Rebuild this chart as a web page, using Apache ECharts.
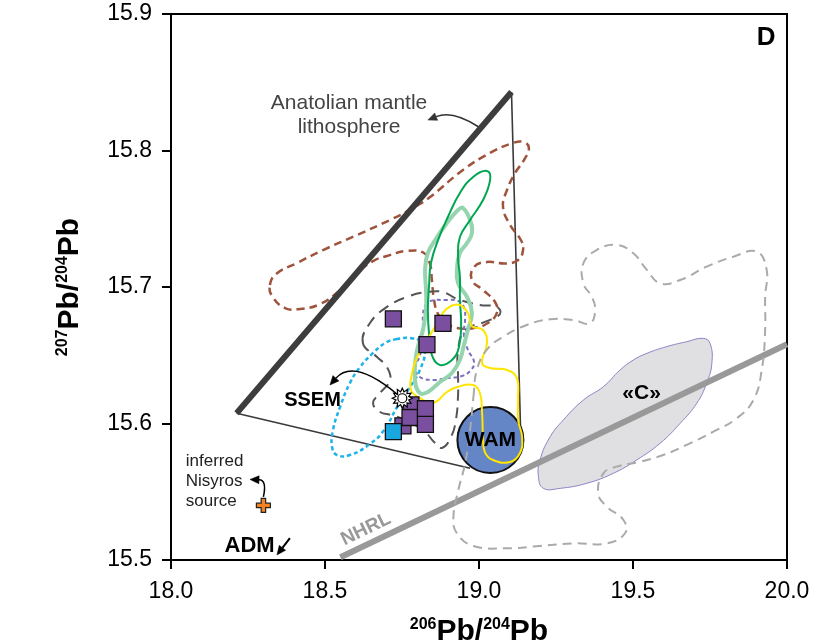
<!DOCTYPE html>
<html>
<head>
<meta charset="utf-8">
<script src="https://cdn.jsdelivr.net/npm/echarts@6/dist/echarts.min.js"></script>
<style>
  html, body { margin: 0; padding: 0; background: #fff; }
  #chart { width: 823px; height: 642px; }
</style>
</head>
<body>
<div id="chart"></div>
<script>
// ---- axis ticks ----
const xTicks = [18.0, 18.5, 19.0, 19.5, 20.0];
const yTicks = [15.5, 15.6, 15.7, 15.8, 15.9];

// ---- Anatolian mantle lithosphere wedge (206Pb/204Pb, 207Pb/204Pb) ----
const lithosphereEdge = [[18.213, 15.6075], [19.1055, 15.8429]];
const wedgeRightEdge = [[19.1055, 15.8429], [19.135, 15.5952]];
const wedgeBaseEdge = [[18.213, 15.6075], [18.971, 15.5672]];

// ---- Northern Hemisphere Reference Line ----
const nhrlLine = [[18.55, 15.502], [20.0, 15.658]];

// ---- compositional fields ----
const brownField = [
  [18.321, 15.7015], [18.341, 15.7095], [18.409, 15.7176], [18.494, 15.7271], [18.604, 15.7381],
  [18.711, 15.7491], [18.786, 15.7579], [18.841, 15.7659], [18.948, 15.7857], [19.036, 15.7982],
  [19.110, 15.8055], [19.146, 15.8062], [19.162, 15.8018], [19.146, 15.7930], [19.117, 15.7835],
  [19.091, 15.7711], [19.078, 15.7586], [19.101, 15.7454], [19.136, 15.7344], [19.143, 15.7271],
  [19.127, 15.7198], [19.088, 15.7172], [19.026, 15.7183], [18.984, 15.7147], [18.977, 15.7051],
  [19.013, 15.6978], [19.052, 15.6890], [19.058, 15.6810], [19.029, 15.6736], [18.984, 15.6700],
  [18.929, 15.6700], [18.893, 15.6736], [18.867, 15.6802], [18.854, 15.6905], [18.847, 15.7051],
  [18.841, 15.7168], [18.821, 15.7249], [18.766, 15.7264], [18.701, 15.7227], [18.656, 15.7190],
  [18.604, 15.7103], [18.549, 15.6978], [18.484, 15.6875], [18.419, 15.6839], [18.370, 15.6846],
  [18.328, 15.6934]
];
const greenField = [
  [18.873, 15.6429], [18.847, 15.6502], [18.838, 15.6648], [18.834, 15.6832], [18.838, 15.7015],
  [18.844, 15.7176], [18.867, 15.7344], [18.899, 15.7513], [18.938, 15.7689], [18.981, 15.7806],
  [19.026, 15.7850], [19.036, 15.7784], [19.013, 15.7637], [18.971, 15.7491], [18.938, 15.7366],
  [18.932, 15.7220], [18.938, 15.7073], [18.938, 15.6905], [18.942, 15.6736], [18.935, 15.6560],
  [18.912, 15.6465]
];
const paleGreenField = [
  [18.808, 15.6223], [18.792, 15.6319], [18.796, 15.6502], [18.808, 15.6612], [18.818, 15.6685],
  [18.828, 15.6832], [18.828, 15.6978], [18.825, 15.7125], [18.834, 15.7249], [18.864, 15.7366],
  [18.896, 15.7469], [18.932, 15.7564], [18.948, 15.7579], [18.971, 15.7491], [18.977, 15.7396],
  [18.961, 15.7322], [18.938, 15.7249], [18.929, 15.7147], [18.932, 15.7029], [18.961, 15.6927],
  [18.977, 15.6810], [18.964, 15.6685], [18.951, 15.6575], [18.938, 15.6465], [18.912, 15.6370],
  [18.873, 15.6304], [18.834, 15.6231]
];
const darkGrayField = [
  [18.623, 15.6590], [18.646, 15.6736], [18.701, 15.6854], [18.766, 15.6927], [18.831, 15.6963],
  [18.883, 15.6963], [18.929, 15.6912], [19.003, 15.6868], [19.058, 15.6854], [19.068, 15.6802],
  [19.019, 15.6744], [18.955, 15.6685], [18.932, 15.6539], [18.932, 15.6355], [18.932, 15.6209],
  [18.925, 15.6026], [18.909, 15.5901], [18.880, 15.5821], [18.854, 15.5864], [18.825, 15.5938],
  [18.760, 15.6026], [18.714, 15.6062], [18.679, 15.6084], [18.656, 15.6150], [18.679, 15.6223],
  [18.711, 15.6319], [18.701, 15.6414], [18.669, 15.6487]
];
const violetField = [
  [18.825, 15.6861], [18.841, 15.6897], [18.890, 15.6905], [18.932, 15.6897], [18.951, 15.6853],
  [18.955, 15.6773], [18.951, 15.6648], [18.964, 15.6539], [18.984, 15.6451], [18.974, 15.6392],
  [18.945, 15.6348], [18.896, 15.6333], [18.851, 15.6319], [18.808, 15.6341], [18.792, 15.6414],
  [18.808, 15.6495], [18.818, 15.6663], [18.818, 15.6795]
];
const yellowField = [
  [18.779, 15.6245], [18.783, 15.6370], [18.799, 15.6487], [18.851, 15.6685], [18.883, 15.6810],
  [18.909, 15.6861], [18.938, 15.6868], [18.964, 15.6810], [18.977, 15.6714], [19.013, 15.6685],
  [19.026, 15.6590], [19.010, 15.6443], [19.036, 15.6407], [19.091, 15.6392], [19.123, 15.6333],
  [19.127, 15.6194], [19.127, 15.6026], [19.140, 15.5901], [19.133, 15.5784], [19.101, 15.5718],
  [19.045, 15.5733], [19.019, 15.5791], [19.013, 15.5901], [19.010, 15.6077], [19.003, 15.6223],
  [18.981, 15.6282], [18.929, 15.6267], [18.896, 15.6231], [18.851, 15.6150], [18.808, 15.6187]
];
const cyanField = [
  [18.734, 15.6619], [18.701, 15.6597], [18.656, 15.6517], [18.614, 15.6414], [18.581, 15.6297],
  [18.549, 15.6121], [18.526, 15.5952], [18.523, 15.5828], [18.539, 15.5769], [18.581, 15.5769],
  [18.646, 15.5850], [18.692, 15.5952], [18.734, 15.6121], [18.776, 15.6267], [18.808, 15.6392],
  [18.825, 15.6539], [18.808, 15.6604], [18.776, 15.6626]
];
const lightGrayField = [
  [18.982, 15.6196], [18.993, 15.6392], [19.025, 15.6539], [19.079, 15.6636], [19.155, 15.6722],
  [19.231, 15.6763], [19.306, 15.6758], [19.360, 15.6734], [19.377, 15.6832], [19.366, 15.6929],
  [19.339, 15.7027], [19.339, 15.7174], [19.382, 15.7271], [19.447, 15.7308], [19.501, 15.7247],
  [19.545, 15.7125], [19.588, 15.7027], [19.653, 15.7051], [19.739, 15.7149], [19.826, 15.7222],
  [19.902, 15.7259], [19.934, 15.7125], [19.929, 15.6929], [19.929, 15.6685], [19.918, 15.6392],
  [19.891, 15.6172], [19.837, 15.6038], [19.761, 15.5940], [19.674, 15.5843], [19.598, 15.5769],
  [19.523, 15.5720], [19.447, 15.5684], [19.404, 15.5635], [19.387, 15.5489], [19.415, 15.5391],
  [19.469, 15.5293], [19.474, 15.5196], [19.415, 15.5122], [19.306, 15.5122], [19.198, 15.5103],
  [19.090, 15.5086], [18.982, 15.5103], [18.928, 15.5196], [18.917, 15.5317], [18.933, 15.5513],
  [18.955, 15.5708], [18.971, 15.5952]
];
const cField = [
  [19.198, 15.5733], [19.231, 15.5903], [19.274, 15.6026], [19.339, 15.6172], [19.404, 15.6270],
  [19.458, 15.6392], [19.501, 15.6465], [19.545, 15.6514], [19.609, 15.6563], [19.674, 15.6599],
  [19.728, 15.6624], [19.750, 15.6588], [19.756, 15.6441], [19.739, 15.6295], [19.707, 15.6148],
  [19.653, 15.6001], [19.588, 15.5855], [19.512, 15.5733], [19.436, 15.5635], [19.350, 15.5562],
  [19.263, 15.5525], [19.209, 15.5525], [19.193, 15.5610]
];

// ---- individual compositions ----
const violetSamples = [
  [18.779, 15.6136], [18.753, 15.5982], [18.776, 15.6044], [18.826, 15.6108], [18.826, 15.5993],
  [18.722, 15.6766], [18.883, 15.6734], [18.831, 15.6578]
];
const cyanSamples = [[18.722, 15.5940]];
const wamPoint = [[19.037, 15.5879]];
const ssemPoint = [[18.751, 15.6185]];
const nisyrosSource = [[18.300, 15.5400]];

// ---- annotation arrows: from, bend, to ----
const arrows = [
  { from: [18.998, 15.8174], via: [18.914, 15.8297], to: [18.834, 15.8223], color: '#333' },
  { from: [18.737, 15.6209], via: [18.594, 15.6480], to: [18.516, 15.6282], color: '#000' },
  { from: [18.300, 15.5462], via: [18.312, 15.5586], to: [18.2565, 15.5590], color: '#000' },
  { from: [18.386, 15.5161], via: null, to: [18.344, 15.5037], color: '#000', width: 2 }
];

const FONT = '"Liberation Sans", Arial, Helvetica, sans-serif';

// ---- text annotations placed in data space ----
const notes = [
  { at: [18.578, 15.8255], text: 'Anatolian mantle\nlithosphere', size: 21, weight: 'normal', color: '#444', lineHeight: 24 },
  { at: [18.4595, 15.6172], text: 'SSEM', size: 20, weight: 'bold', color: '#000' },
  { at: [19.037, 15.5879], text: 'WAM', size: 21, weight: 'bold', color: '#000' },
  { at: [19.528, 15.6221], text: '«C»', size: 21, weight: 'bold', color: '#000' },
  { at: [18.048, 15.5575], text: 'inferred\nNisyros\nsource', size: 17, weight: 'normal', color: '#222', lineHeight: 20, align: 'left' },
  { at: [18.255, 15.5103], text: 'ADM', size: 22, weight: 'bold', color: '#000' },
  { at: [18.633, 15.5225], text: 'NHRL', size: 19, weight: 'bold', color: '#999', rotate: 25.9 },
  { at: [19.932, 15.8824], text: 'D', size: 26, weight: 'bold', color: '#000' }
];

function fieldSeries(points, style, z, closed = true) {
  return {
    type: 'custom',
    coordinateSystem: 'cartesian2d',
    silent: true,
    z: z,
    data: [points[0]],
    renderItem: (params, api) => ({
      type: closed ? 'polygon' : 'polyline',
      shape: { points: points.map(p => api.coord(p)), smooth: closed ? 0.45 : 0 },
      style: Object.assign({ fill: 'none' }, style)
    })
  };
}

function arrowSeries(a) {
  return {
    type: 'custom',
    coordinateSystem: 'cartesian2d',
    silent: true,
    z: 20,
    data: [a.from],
    renderItem: (params, api) => {
      const p0 = api.coord(a.from);
      const p2 = api.coord(a.to);
      const c = a.via ? api.coord(a.via) : [(p0[0] + p2[0]) / 2, (p0[1] + p2[1]) / 2];
      let dx = p2[0] - c[0], dy = p2[1] - c[1];
      const len = Math.hypot(dx, dy) || 1;
      dx /= len; dy /= len;
      const L = 9, W = 4;
      const bx = p2[0] - dx * L, by = p2[1] - dy * L;
      return {
        type: 'group',
        children: [
          {
            type: 'bezierCurve',
            shape: { x1: p0[0], y1: p0[1], x2: bx, y2: by, cpx1: c[0], cpy1: c[1] },
            style: { stroke: a.color, lineWidth: a.width || 1.5, fill: 'none' }
          },
          {
            type: 'polygon',
            shape: { points: [[p2[0], p2[1]], [bx - dy * W, by + dx * W], [bx + dy * W, by - dx * W]] },
            style: { fill: a.color, stroke: a.color, lineWidth: 0.5 }
          }
        ]
      };
    }
  };
}

const notesSeries = {
  type: 'custom',
  coordinateSystem: 'cartesian2d',
  silent: true,
  z: 30,
  data: notes.map(n => n.at),
  renderItem: (params, api) => {
    const n = notes[params.dataIndex];
    const p = api.coord(n.at);
    return {
      type: 'text',
      x: p[0], y: p[1],
      rotation: (n.rotate || 0) * Math.PI / 180,
      style: {
        text: n.text,
        fill: n.color,
        fontSize: n.size,
        fontWeight: n.weight,
        fontFamily: FONT,
        lineHeight: n.lineHeight || n.size,
        align: n.align || 'center',
        verticalAlign: 'middle',
        textAlign: n.align || 'center',
        textVerticalAlign: 'middle'
      }
    };
  }
};

// sun-like marker outline
function sunSymbol(n) {
  const pts = [];
  for (let i = 0; i < 2 * n; i++) {
    const r = i % 2 === 0 ? 50 : 33;
    const a = Math.PI * i / n - Math.PI / 2;
    pts.push((50 + r * Math.cos(a)).toFixed(2) + ',' + (50 + r * Math.sin(a)).toFixed(2));
  }
  return 'path://M' + pts.join(' L') + ' Z';
}

const axisTitleRich = {
  sup: { fontSize: 16, fontWeight: 'bold', fontFamily: FONT, color: '#000', verticalAlign: 'top', lineHeight: 30 },
  m: { fontSize: 30, fontWeight: 'bold', fontFamily: FONT, color: '#000', lineHeight: 30 }
};

const axisCommon = {
  type: 'value',
  splitLine: { show: false },
  axisLine: { show: true, lineStyle: { color: '#000', width: 2 } },
  axisTick: { show: true, inside: false, length: 9, lineStyle: { color: '#000', width: 2 } },
  nameLocation: 'middle'
};

const option = {
  animation: false,
  backgroundColor: '#fff',
  grid: {
    left: 171, right: 36, top: 14, bottom: 82,
    show: true, borderColor: '#000', borderWidth: 2,
    containLabel: false, outerBoundsMode: 'none'
  },
  xAxis: Object.assign({}, axisCommon, {
    min: xTicks[0], max: xTicks[xTicks.length - 1], interval: xTicks[1] - xTicks[0],
    axisLabel: { fontSize: 23, fontFamily: FONT, color: '#000', margin: 20, formatter: v => v.toFixed(1) },
    name: '{sup|206}{m|Pb/}{sup|204}{m|Pb}',
    nameGap: 57,
    nameTextStyle: { rich: axisTitleRich }
  }),
  yAxis: Object.assign({}, axisCommon, {
    min: yTicks[0], max: yTicks[yTicks.length - 1], interval: +(yTicks[1] - yTicks[0]).toFixed(2),
    axisLabel: { fontSize: 23, fontFamily: FONT, color: '#000', margin: 19, formatter: v => v.toFixed(1) },
    name: '{sup|207}{m|Pb/}{sup|204}{m|Pb}',
    nameGap: 86,
    nameRotate: 90,
    nameTextStyle: { rich: axisTitleRich }
  }),
  series: [
    fieldSeries(cField, { fill: '#e0e0e2', stroke: '#8a85c6', lineWidth: 1 }, 1),
    fieldSeries(nhrlLine, { stroke: '#999', lineWidth: 6 }, 2, false),
    fieldSeries(wedgeRightEdge, { stroke: '#3a3a3a', lineWidth: 1.6 }, 3, false),
    fieldSeries(wedgeBaseEdge, { stroke: '#3a3a3a', lineWidth: 1.6 }, 3, false),
    fieldSeries(brownField, { stroke: '#a0533c', lineWidth: 2.5, lineDash: [8, 5] }, 3),
    fieldSeries(cyanField, { stroke: '#1cb2ea', lineWidth: 2.5, lineDash: [4, 3] }, 3),
    fieldSeries(darkGrayField, { stroke: '#555', lineWidth: 2, lineDash: [11, 7] }, 3),
    fieldSeries(violetField, { stroke: '#7b6fc0', lineWidth: 2, lineDash: [4, 3] }, 3),
    fieldSeries(paleGreenField, { stroke: '#95d4ae', lineWidth: 4 }, 3),
    fieldSeries(greenField, { stroke: '#00a651', lineWidth: 2 }, 3),
    fieldSeries(lithosphereEdge, { stroke: '#3d3d3d', lineWidth: 6 }, 4, false),
    {
      type: 'scatter', z: 5, silent: true,
      data: wamPoint,
      symbol: 'circle', symbolSize: 66,
      itemStyle: { color: '#6485c6', borderColor: '#111', borderWidth: 2, opacity: 1 }
    },
    fieldSeries(yellowField, { stroke: '#ffe500', lineWidth: 2 }, 6),
    fieldSeries(lightGrayField, { stroke: '#aaa', lineWidth: 2, lineDash: [9, 6] }, 6),
    {
      type: 'scatter', z: 7, silent: true,
      data: violetSamples,
      symbol: 'rect', symbolSize: 16,
      itemStyle: { color: '#7b4f9f', borderColor: '#111', borderWidth: 1.3, opacity: 1 }
    },
    {
      type: 'scatter', z: 7, silent: true,
      data: cyanSamples,
      symbol: 'rect', symbolSize: 16,
      itemStyle: { color: '#1aa6df', borderColor: '#111', borderWidth: 1.3, opacity: 1 }
    },
    {
      type: 'scatter', z: 8, silent: true,
      data: ssemPoint,
      symbol: sunSymbol(12), symbolSize: 20,
      itemStyle: { color: '#fff', borderColor: '#000', borderWidth: 1.2, opacity: 1 }
    },
    {
      type: 'scatter', z: 8, silent: true,
      data: ssemPoint,
      symbol: 'circle', symbolSize: 9,
      itemStyle: { color: '#fff', borderColor: '#000', borderWidth: 1.2, opacity: 1 }
    },
    {
      type: 'scatter', z: 8, silent: true,
      data: nisyrosSource,
      symbol: 'path://M34,0 H66 V34 H100 V66 H66 V100 H34 V66 H0 V34 H34 Z', symbolSize: 14,
      itemStyle: { color: '#f58220', borderColor: '#222', borderWidth: 1.2, opacity: 1 }
    },
    ...arrows.map(arrowSeries),
    notesSeries
  ]
};

const chart = echarts.init(document.getElementById('chart'), null, { renderer: 'canvas' });
chart.setOption(option);
</script>
</body>
</html>
